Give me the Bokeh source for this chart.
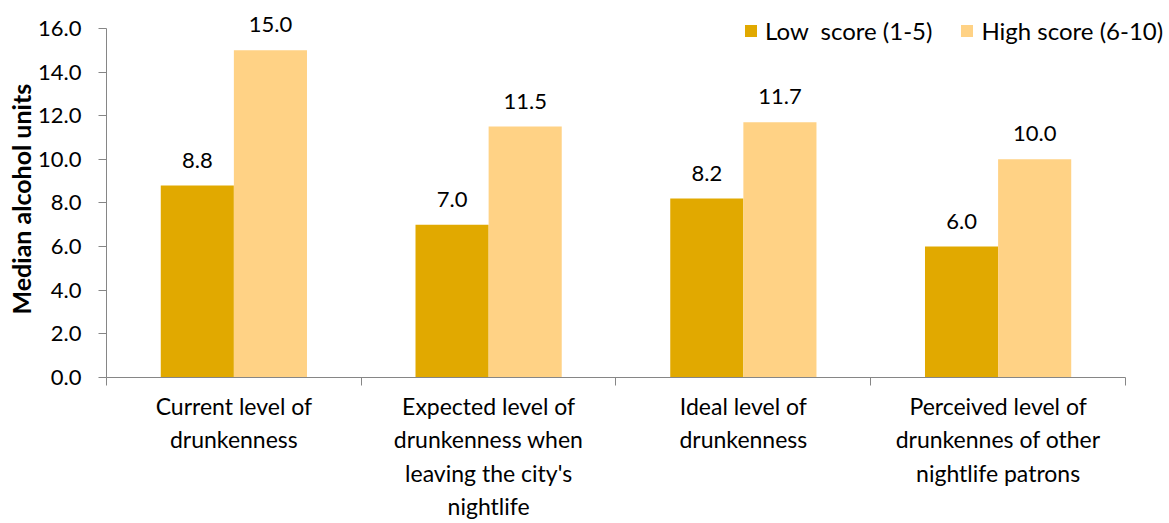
from bokeh.plotting import figure
from bokeh.models import (Range1d, FixedTicker, NumeralTickFormatter, ColumnDataSource,
                          LabelSet, Legend, LegendItem, Title)
from bokeh.core.properties import value
from bokeh.embed import file_html
from bokeh.resources import INLINE

categories = [
    "Current level of\ndrunkenness",
    "Expected level of\ndrunkenness when\nleaving the city's\nnightlife",
    "Ideal level of\ndrunkenness",
    "Perceived level of\ndrunkennes of other\nnightlife patrons",
]
low_scores = [8.8, 7.0, 8.2, 6.0]
high_scores = [15.0, 11.5, 11.7, 10.0]
series_names = ["Low  score (1-5)", "High score (6-10)"]
y_ticks = [0, 2, 4, 6, 8, 10, 12, 14, 16]
y_max = 16
y_title = "Median alcohol units"

FONT = "Lato"
LOW_C = "#E1A900"
HIGH_C = "#FFD285"
AX_C = "#868686"
BW = 0.287

n = len(categories)
centers = [i + 0.5 for i in range(n)]
low_x = [c - BW / 2 for c in centers]
high_x = [c + BW / 2 for c in centers]

# frame reaches the top and right edges so value labels / legend are not clipped;
# the axes are bounded to the data extent
p = figure(width=1169, height=523, output_backend="svg", toolbar_location=None,
           x_range=Range1d(0, n * 1.0432), y_range=Range1d(0, y_max * 1.08),
           min_border_left=106, min_border_right=0, min_border_top=0, min_border_bottom=145)
p.outline_line_color = None
p.xgrid.visible = False
p.ygrid.visible = False
p.background_fill_color = "white"
p.border_fill_color = "white"

low_src = ColumnDataSource(dict(x=low_x, top=low_scores, label=[f"{v:.1f}" for v in low_scores]))
high_src = ColumnDataSource(dict(x=high_x, top=high_scores, label=[f"{v:.1f}" for v in high_scores]))

r_low = p.vbar(x="x", top="top", width=BW, bottom=0, source=low_src,
               fill_color=LOW_C, line_color=None)
r_high = p.vbar(x="x", top="top", width=BW, bottom=0, source=high_src,
                fill_color=HIGH_C, line_color=None)

for src in (low_src, high_src):
    p.add_layout(LabelSet(x="x", y="top", text="label", source=src, text_align="center",
                          text_baseline="bottom", y_offset=18, text_font=value(FONT),
                          text_font_size=value("22px"), text_color="#000000"))

# y axis
yax = p.yaxis[0]
yax.bounds = (0, y_max)
yax.ticker = FixedTicker(ticks=y_ticks)
yax.formatter = NumeralTickFormatter(format="0.0")
yax.axis_line_color = AX_C
yax.major_tick_line_color = AX_C
yax.major_tick_out = 8
yax.major_tick_in = 0
yax.minor_tick_line_color = None
yax.major_label_text_font = FONT
yax.major_label_text_font_size = "22px"
yax.major_label_text_color = "#000000"
yax.major_label_standoff = 17

# y-axis title as a side title so it can be centred on the bounded axis
p.add_layout(Title(text=y_title, align="left", offset=63, standoff=0,
                   text_font=FONT, text_font_size="25px", text_font_style="bold",
                   text_color="#000000"), "left")

# x axis
xax = p.xaxis[0]
xax.bounds = (0, n)
xax.ticker = FixedTicker(ticks=centers, minor_ticks=list(range(n + 1)))
xax.major_label_overrides = {c: lab for c, lab in zip(centers, categories)}
xax.axis_line_color = AX_C
xax.major_tick_line_color = None
xax.major_tick_out = 0
xax.major_tick_in = 0
xax.minor_tick_line_color = AX_C
xax.minor_tick_out = 8
xax.minor_tick_in = 0
xax.major_label_text_font = FONT
xax.major_label_text_font_size = "23px"
xax.major_label_text_color = "#000000"
xax.major_label_standoff = 6

legend = Legend(items=[LegendItem(label=series_names[0], renderers=[r_low]),
                       LegendItem(label=series_names[1], renderers=[r_high])],
                orientation="horizontal", location=(637, 332), padding=0, margin=0,
                spacing=27, label_standoff=7, glyph_width=15, glyph_height=15,
                label_text_font=FONT, label_text_font_size="24px", label_text_color="#000000",
                border_line_color=None, background_fill_alpha=0)
p.add_layout(legend)

open("out.html", "w").write(file_html(p, INLINE))
